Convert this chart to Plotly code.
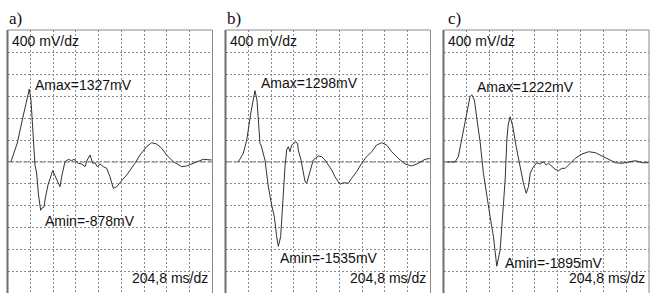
import plotly.graph_objects as go

# ---- data (time in ms, amplitude in mV) ----
t_a = [30, 67, 88, 139, 196, 211, 232, 247, 262, 279, 298, 310, 328, 337, 364, 397, 406, 436, 472, 490,
       517, 547, 577, 598, 636, 667, 697, 717, 742, 766, 787, 807, 832, 861, 892, 921, 951, 982, 1005,
       1036, 1072, 1117, 1146, 1191, 1251, 1296, 1341, 1386, 1431, 1491, 1566, 1611, 1670, 1760, 1836]
v_a = [0, 218, 345, 818, 1327, 1127, 345, -55, -200, -600, -878, -836, -818, -691, -418, -176, -158, -291, -449, -236,
       5, 49, 24, 49, -24, -36, -85, 36, 127, -24, -13, -85, -36, -85, -115, -267, -478, -449, -400,
       -315, -236, -115, -24, 127, 278, 351, 327, 249, 127, 5, -85, -73, -24, 49, 36]

t_b = [115, 160, 191, 229, 265, 283, 310, 319, 355, 385, 415, 439, 460, 475, 496, 505, 520, 535, 550, 565,
       580, 595, 616, 634, 649, 654, 679, 699, 715, 730, 760, 789, 834, 865, 895, 924, 955, 984, 1014,
       1029, 1059, 1104, 1135, 1179, 1224, 1269, 1314, 1359, 1404, 1449, 1494, 1553, 1614, 1674, 1733, 1794, 1838]
v_b = [0, 158, 400, 909, 1298, 1127, 340, 309, 36, -449, -782, -994, -1358, -1535, -1358, -1054, -509, -85, 218, 278,
       187, 309, 340, 369, 327, 218, 36, -205, -358, -387, -145, 36, 109, 96, 36, -55, -145, -267, -358,
       -405, -376, -387, -296, -176, -24, 96, 187, 309, 351, 309, 187, 67, -36, -73, -24, 49, 64]

t_c = [29, 103, 133, 164, 202, 238, 254, 277, 301, 328, 358, 388, 418, 448, 478, 508, 538, 553, 568, 580,
       598, 622, 652, 688, 717, 742, 762, 778, 807, 838, 868, 897, 921, 942, 973, 1002, 1032, 1063, 1092,
       1137, 1182, 1242, 1302, 1362, 1422, 1482, 1542, 1602, 1661, 1722, 1782, 1841]
v_c = [0, 0, 96, 400, 800, 1187, 1222, 1127, 764, 373, -205, -631, -994, -1358, -1895, -1600, -813, -327, 400, 673,
       824, 642, 278, -85, -387, -569, -449, -205, -85, -13, -36, 5, -55, -24, -85, -133, -158, -115, -115,
       -24, 67, 145, 187, 169, 109, 36, -13, -24, 5, 24, -13, -13]

panel_labels = ["a)", "b)", "c)"]
amax_text = ["Amax=1327mV", "Amax=1298mV", "Amax=1222mV"]
amin_text = ["Amin=-878mV", "Amin=-1535mV", "Amin=-1895mV"]
amax_pos = [(225, 1405), (305, 1433), (285, 1369)]
amin_pos = [(322, -1064), (475, -1745), (532, -1842)]
y_scale_text = "400 mV/dz"
x_scale_text = "204,8 ms/dz"

X_DIV = 204.8
Y_DIV = 400
X_RANGE = [0, 9 * X_DIV]
Y_RANGE = [-2382, 2400]

W, H = 650, 293
domains = [[7.5 / W, 212.5 / W], [225.5 / W, 430.5 / W], [443.5 / W, 649 / W]]
label_x = [7, 225, 446]

series = [(t_a, v_a), (t_b, v_b), (t_c, v_c)]

fig = go.Figure()
FONT = "Liberation Sans, Arial, sans-serif"
layout = dict(
    width=W, height=H, margin=dict(l=0, r=0, t=0, b=0),
    paper_bgcolor="white", plot_bgcolor="white", showlegend=False,
)
shapes = []
annotations = []
for i, (t, v) in enumerate(series):
    sfx = "" if i == 0 else str(i + 1)
    xa, ya = "x" + sfx, "y" + sfx
    fig.add_trace(go.Scatter(x=t, y=v, mode="lines", xaxis=xa, yaxis=ya,
                             line=dict(color="#333333", width=1), hoverinfo="skip"))
    layout["xaxis" + sfx] = dict(domain=domains[i], range=X_RANGE, tick0=0, dtick=X_DIV,
                                 showgrid=True, gridcolor="#8a8a8a", griddash="2px,2px", gridwidth=1,
                                 zeroline=False, showticklabels=False, ticks="", showline=False,
                                 anchor=ya, fixedrange=True)
    layout["yaxis" + sfx] = dict(domain=[0, (H - 30) / H], range=Y_RANGE, tick0=0, dtick=Y_DIV,
                                 showgrid=True, gridcolor="#8a8a8a", griddash="2px,2px", gridwidth=1,
                                 zeroline=False, showticklabels=False, ticks="", showline=False,
                                 anchor=xa, fixedrange=True)
    xd, yd = xa + " domain", ya + " domain"
    # dashed zero line
    shapes.append(dict(type="line", xref=xd, yref=ya, x0=0, x1=1, y0=0, y1=0,
                       line=dict(color="#bdbdbd", width=2, dash="6px,2px"), layer="below"))
    # frame: left (thicker), top, right
    shapes.append(dict(type="line", xref=xd, yref=yd, x0=0, x1=0, y0=0, y1=1,
                       line=dict(color="#6e6e6e", width=2)))
    shapes.append(dict(type="line", xref=xd, yref=yd, x0=0, x1=1, y0=1, y1=1,
                       line=dict(color="#8a8a8a", width=1)))
    shapes.append(dict(type="line", xref=xd, yref=yd, x0=1, x1=1, y0=0, y1=1,
                       line=dict(color="#8a8a8a", width=1)))
    f = dict(family=FONT, size=14, color="#111111")
    annotations.append(dict(xref=xa, yref=ya, x=25, y=2195, text=y_scale_text, showarrow=False,
                            xanchor="left", yanchor="middle", font=f))
    annotations.append(dict(xref=xa, yref=ya, x=1822, y=-2115, text=x_scale_text, showarrow=False,
                            xanchor="right", yanchor="middle", font=f))
    annotations.append(dict(xref=xa, yref=ya, x=amax_pos[i][0], y=amax_pos[i][1], text=amax_text[i],
                            showarrow=False, xanchor="left", yanchor="middle", font=f))
    annotations.append(dict(xref=xa, yref=ya, x=amin_pos[i][0], y=amin_pos[i][1], text=amin_text[i],
                            showarrow=False, xanchor="left", yanchor="middle", font=f))
    annotations.append(dict(xref="paper", yref="paper", x=label_x[i] / W, y=1 - 19 / H,
                            text=panel_labels[i], showarrow=False, xanchor="left", yanchor="middle",
                            font=dict(family="Liberation Serif, Times New Roman, serif", size=17,
                                      color="#111111")))

layout["shapes"] = shapes
layout["annotations"] = annotations
fig.update_layout(**layout)
fig.write_html("out.html", config={"displayModeBar": False, "staticPlot": True})

# remove the browser's default body margin so the figure sits at the window's top-left corner
with open("out.html", "r", encoding="utf-8") as fh:
    html = fh.read()
html = html.replace("<body>", '<body style="margin:0;padding:0;overflow:hidden">', 1)
with open("out.html", "w", encoding="utf-8") as fh:
    fh.write(html)
